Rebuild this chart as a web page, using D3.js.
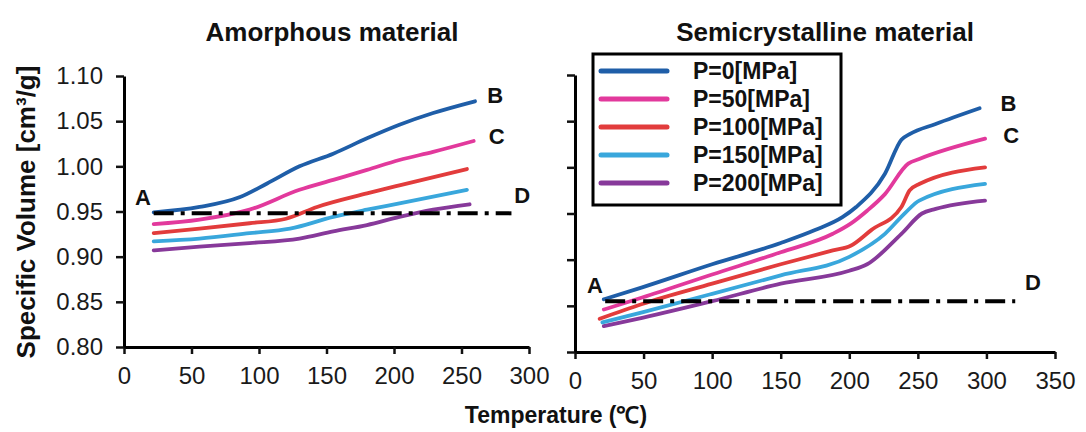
<!DOCTYPE html>
<html><head><meta charset="utf-8">
<script src="https://cdn.jsdelivr.net/npm/d3@7"></script>
<style>
html,body{margin:0;padding:0;background:#fff;}
svg{display:block;font-family:"Liberation Sans",Arial,Helvetica,sans-serif;}
</style></head>
<body>
<svg id="c" width="1086" height="432"></svg>
<script>
// ---------- data ----------
const seriesNames = ["P=0[MPa]","P=50[MPa]","P=100[MPa]","P=150[MPa]","P=200[MPa]"];
const seriesColors = ["#1f5ea8","#e2399c","#e23c3c","#39a7dc","#87399a"];

// Amorphous material: [temperature, specific volume]
const amorphP0   = [[22,0.949],[56,0.955],[86,0.966],[106,0.981],[130,1.000],[155,1.014],[180,1.031],[204,1.046],[229,1.059],[260,1.072]];
const amorphP50  = [[22,0.936],[56,0.941],[93,0.952],[130,0.974],[155,0.985],[180,0.996],[204,1.007],[229,1.016],[259,1.028]];
const amorphP100 = [[22,0.926],[56,0.931],[93,0.937],[120,0.942],[143,0.955],[180,0.970],[204,0.979],[254,0.997]];
const amorphP150 = [[22,0.917],[56,0.920],[93,0.926],[123,0.931],[155,0.944],[180,0.952],[204,0.959],[254,0.974]];
const amorphP200 = [[22,0.907],[56,0.911],[93,0.915],[130,0.920],[155,0.928],[180,0.935],[204,0.944],[229,0.952],[256,0.958]];

// Semicrystalline material
const semiP0   = [[21,0.857],[49,0.870],[100,0.895],[150,0.918],[175,0.932],[195,0.946],[205,0.957],[226,0.993],[238,1.030],[244,1.036],[263,1.047],[295,1.064]];
const semiP50  = [[21,0.846],[49,0.859],[100,0.884],[150,0.908],[188,0.928],[201,0.939],[213,0.953],[226,0.971],[243,1.004],[251,1.009],[299,1.031]];
const semiP100 = [[18,0.836],[49,0.852],[100,0.874],[150,0.895],[188,0.910],[201,0.915],[216,0.932],[238,0.957],[244,0.975],[251,0.982],[299,1.000]];
const semiP150 = [[20,0.832],[49,0.843],[100,0.863],[150,0.883],[200,0.903],[226,0.928],[241,0.951],[251,0.964],[299,0.982]];
const semiP200 = [[21,0.828],[49,0.837],[100,0.855],[150,0.874],[200,0.888],[213,0.895],[238,0.928],[253,0.950],[263,0.955],[299,0.964]];

// Reference dash-dot lines A-D
const amorphRef = [[22,0.948],[287,0.948]];
const semiRef   = [[22,0.855],[321,0.855]];

// Point labels
const amorphLabels = [["A",14,0.966],["B",275,1.079],["C",276,1.033],["D",295,0.968]];
const semiLabels   = [["A",14.6,0.873],["B",316,1.070],["C",318,1.035],["D",334,0.876]];

const yTicks = [0.80,0.85,0.90,0.95,1.00,1.05,1.10];
const amorphXTicks = [0,50,100,150,200,250,300];
const semiXTicks = [0,50,100,150,200,250,300,350];

const titles = ["Amorphous material","Semicrystalline material"];
const yLabel = "Specific Volume [cm³/g]";
const xLabel = "Temperature (℃)";

// ---------- drawing ----------
const svg = d3.select("#c");

const panels = [
  {series:[amorphP0,amorphP50,amorphP100,amorphP150,amorphP200], ref:amorphRef, labels:amorphLabels,
   x:d3.scaleLinear().domain([0,300]).range([124,529]),
   y:d3.scaleLinear().domain([0.80,1.10]).range([347,76]),
   xt:amorphXTicks, ylabels:true, title:titles[0], titleX:332},
  {series:[semiP0,semiP50,semiP100,semiP150,semiP200], ref:semiRef, labels:semiLabels,
   x:d3.scaleLinear().domain([0,350]).range([575,1055]),
   y:d3.scaleLinear().domain([0.80,1.10]).range([352,75]),
   xt:semiXTicks, ylabels:false, title:titles[1], titleX:825}
];

panels.forEach(p=>{
  const gx = svg.append("g").attr("transform",`translate(0,${p.y.range()[0]})`)
    .call(d3.axisBottom(p.x).tickValues(p.xt).tickFormat(d3.format("d")).tickSize(7).tickSizeOuter(0).tickPadding(13));
  const gy = svg.append("g").attr("transform",`translate(${p.x(0)},0)`)
    .call(d3.axisLeft(p.y).tickValues(yTicks).tickFormat(p.ylabels?d3.format(".2f"):"").tickSize(8).tickSizeOuter(0).tickPadding(13));
  [gx,gy].forEach(g=>{
    g.select(".domain").attr("stroke","#000").attr("stroke-width",3);
    g.selectAll(".tick line").attr("stroke","#111").attr("stroke-width",2.5);
    g.selectAll(".tick text").attr("fill","#1a1a1a").style("font-size","24px").style("font-family","'Liberation Sans',Arial,sans-serif");
  });

  const line = d3.line().x(d=>p.x(d[0])).y(d=>p.y(d[1])).curve(d3.curveMonotoneX);
  p.series.slice().reverse().forEach((s,ri)=>{
    const i = p.series.length-1-ri;
    svg.append("path").datum(s).attr("d",line).attr("fill","none")
      .attr("stroke",seriesColors[i]).attr("stroke-width",3.8).attr("stroke-linecap","round").attr("stroke-linejoin","round");
  });
  svg.append("path").datum(p.ref).attr("d",d3.line().x(d=>p.x(d[0])).y(d=>p.y(d[1])))
    .attr("fill","none").attr("stroke","#000").attr("stroke-width",4).attr("stroke-dasharray","20,7,4,7");

  svg.selectAll(null).data(p.labels).enter().append("text")
    .attr("x",d=>p.x(d[1])).attr("y",d=>p.y(d[2])).attr("text-anchor","middle").attr("dy","0.36em")
    .style("font-size","22px").style("font-weight","bold").attr("fill","#111").text(d=>d[0]);

  svg.append("text").attr("x",p.titleX).attr("y",41).attr("text-anchor","middle")
    .style("font-size","26px").style("font-weight","bold").attr("fill","#111").text(p.title);
});

// y label
svg.append("text").attr("transform","translate(35,212) rotate(-90)").attr("text-anchor","middle")
  .style("font-size","26px").style("font-weight","bold").attr("fill","#111").text(yLabel);
// x label
svg.append("text").attr("x",556).attr("y",423).attr("text-anchor","middle")
  .style("font-size","23px").style("font-weight","bold").attr("fill","#111").text(xLabel);

// legend
const lg = svg.append("g");
lg.append("rect").attr("x",593).attr("y",54).attr("width",248).attr("height",151)
  .attr("fill","#fff").attr("stroke","#000").attr("stroke-width",3);
const rowY = d3.scalePoint().domain(seriesNames).range([71,183]);
seriesNames.forEach((n,i)=>{
  lg.append("line").attr("x1",601).attr("x2",667).attr("y1",rowY(n)).attr("y2",rowY(n))
    .attr("stroke",seriesColors[i]).attr("stroke-width",5).attr("stroke-linecap","round");
  lg.append("text").attr("x",693).attr("y",rowY(n)).attr("dy","0.36em")
    .style("font-size","23px").style("font-weight","bold").attr("fill","#111").text(n);
});
</script>
</body></html>
